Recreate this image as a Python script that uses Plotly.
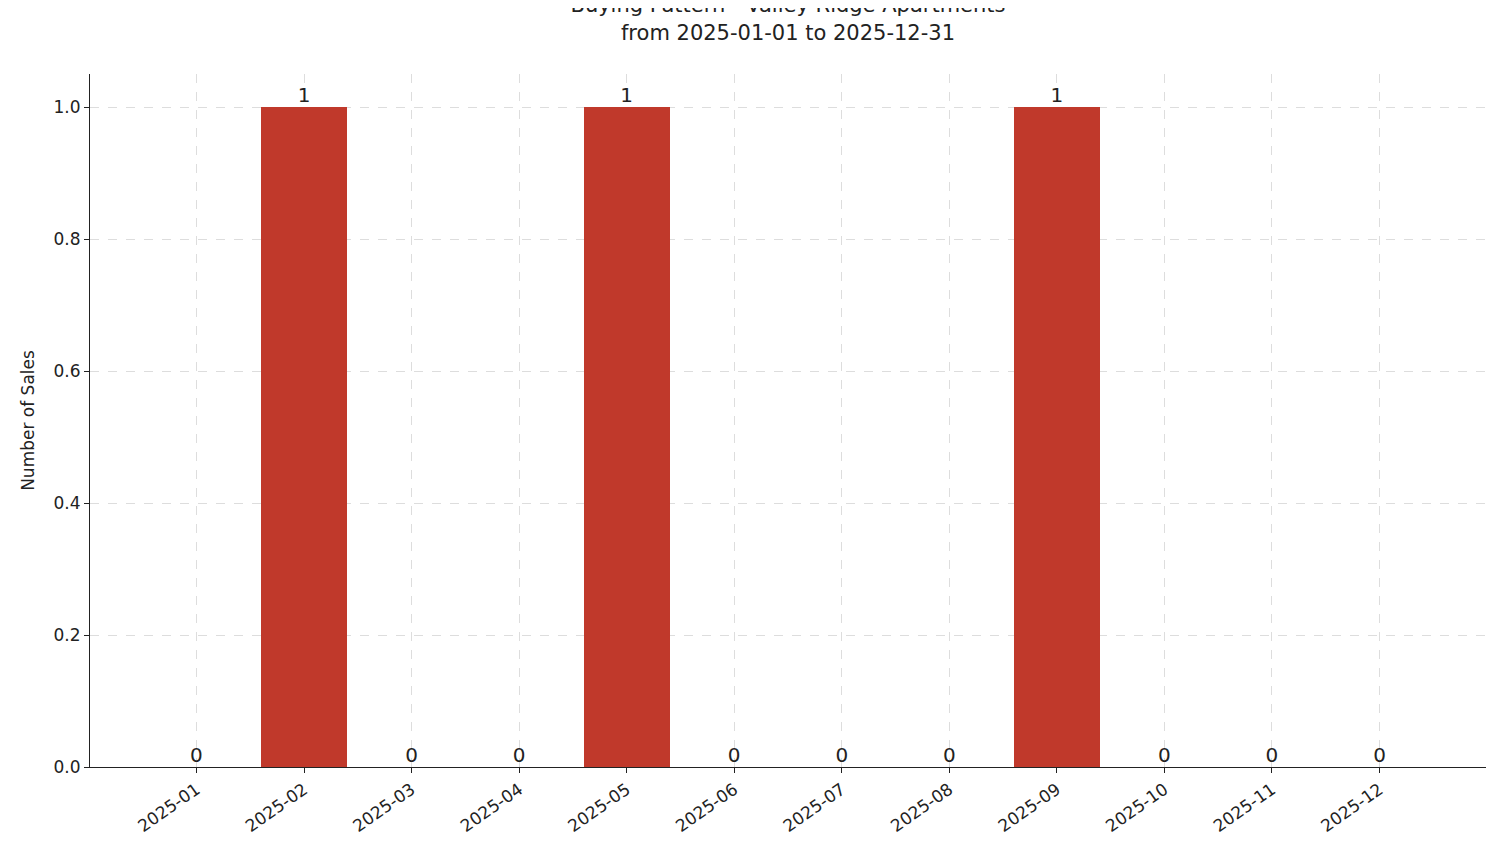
import plotly.graph_objects as go

months = ["2025-01","2025-02","2025-03","2025-04","2025-05","2025-06",
          "2025-07","2025-08","2025-09","2025-10","2025-11","2025-12"]
sales = [0,1,0,0,1,0,0,0,1,0,0,0]

x = list(range(len(months)))
font = dict(family="DejaVu Sans", size=17, color="#222")

fig = go.Figure()
fig.add_trace(go.Bar(x=x, y=sales, width=0.8, marker=dict(color="#c0392b", line=dict(width=0)),
                     showlegend=False, hoverinfo="skip"))
fig.add_trace(go.Scatter(x=x, y=sales, mode="text", text=[str(v) for v in sales],
                         textposition="top center", textfont=dict(family="DejaVu Sans", size=20, color="#222"),
                         cliponaxis=False, showlegend=False, hoverinfo="skip"))

axis_common = dict(showline=True, linecolor="#222", linewidth=1.2, ticks="outside", ticklen=5,
                   tickcolor="#222", showgrid=True, gridcolor="#dddddd", griddash="dash", gridwidth=0.8,
                   zeroline=False, tickfont=font)
fig.update_xaxes(range=[-0.99, 11.99], tickmode="array", tickvals=x, ticktext=months,
                 tickangle=-35, **axis_common)
fig.update_yaxes(range=[0, 1.05], tickmode="array", tickvals=[0,0.2,0.4,0.6,0.8,1.0],
                 tickformat=".1f", title=dict(text="Number of Sales", font=font, standoff=14),
                 **axis_common)
fig.update_layout(
    width=1493, height=855, plot_bgcolor="white", paper_bgcolor="white",
    margin=dict(l=82, r=15, t=66, b=96),
    title=dict(text="Buying Pattern - Valley Ridge Apartments<br>from 2025-01-01 to 2025-12-31",
               x=(780)/1493, xanchor="center", y=0.995, yanchor="top",
               font=dict(family="DejaVu Sans", size=21, color="#222")),
    bargap=0,
)
fig.write_html("out.html")
